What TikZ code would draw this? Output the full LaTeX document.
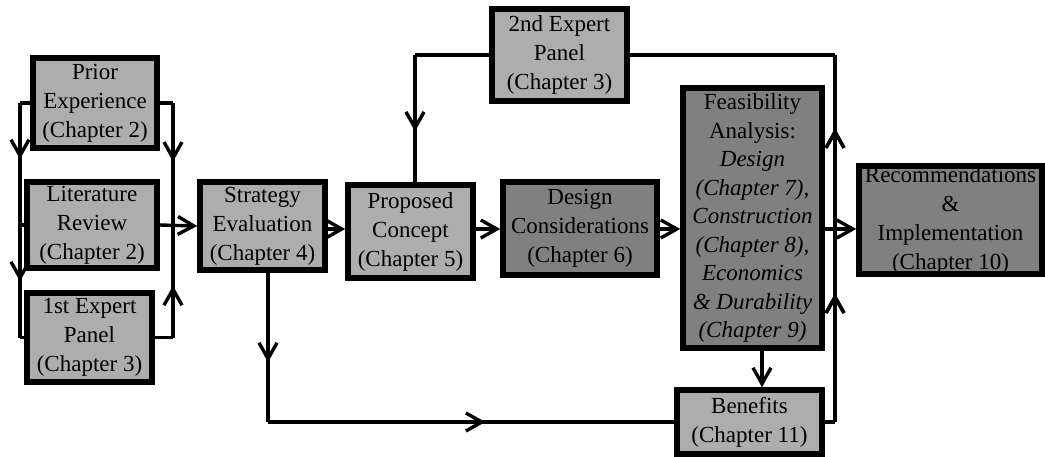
\documentclass[tikz,border=0pt]{standalone}
\usepackage{fontspec}
\setmainfont{Liberation Serif}
\usetikzlibrary{arrows.meta,decorations.markings,calc}
\tikzset{
  box/.style={draw=black, line width=5.5pt, inner sep=0pt, align=center,
    font=\fontsize{23}{29}\selectfont},
  lightbox/.style={box, fill=black!32},
  darkbox/.style={box, fill=black!50},
  conn/.style={draw=black, line width=3.4pt},
  vtip/.tip={Straight Barb[length=16pt,width=18pt,line width=3.4pt]},
  endarr/.style={conn, -vtip},
  tipat/.style={postaction={decorate}, decoration={markings,
     mark=at position #1 with {\arrow{vtip}}}}
}
\begin{document}
\begin{tikzpicture}[x=1pt,y=-1pt]
\path[use as bounding box, fill=white] (0,0) rectangle (1045,456);

% boxes
\node[lightbox, minimum width=124pt, minimum height=90pt] (prior) at (95,103) {Prior\\Experience\\(Chapter 2)};
\node[lightbox, minimum width=130pt, minimum height=86pt] (lit) at (92,225) {Literature\\Review\\(Chapter 2)};
\node[lightbox, minimum width=125pt, minimum height=89pt] (exp1) at (89.5,337.5) {1st Expert\\Panel\\(Chapter 3)};
\node[lightbox, minimum width=125pt, minimum height=88pt] (strat) at (262.5,226) {Strategy\\Evaluation\\(Chapter 4)};
\node[lightbox, minimum width=125pt, minimum height=93pt] (prop) at (410.5,231.5) {Proposed\\Concept\\(Chapter 5)};
\node[lightbox, minimum width=135pt, minimum height=92pt] (exp2) at (559.5,55) {2nd Expert\\Panel\\(Chapter 3)};
\node[darkbox, minimum width=154pt, minimum height=93pt] (design) at (580,228.5) {Design\\Considerations\\(Chapter 6)};
\node[darkbox, minimum width=139pt, minimum height=260pt, font=\fontsize{23}{28.5}\selectfont] (feas) at (752.5,218)
  {Feasibility\\Analysis:\\\itshape Design\\\itshape (Chapter 7),\\\itshape Construction\\\itshape (Chapter 8),\\\itshape Economics\\\itshape \& Durability\\\itshape (Chapter 9)};
\node[darkbox, minimum width=183pt, minimum height=96pt] (recom) at (950.5,220) {Recommendations\\\&\\Implementation\\(Chapter 10)};
\node[lightbox, minimum width=145pt, minimum height=64pt] (benef) at (749.5,422) {Benefits\\(Chapter 11)};

% bend coordinates
\coordinate (L1) at (20,103);
\coordinate (L2) at (20,225);
\coordinate (L3) at (20,337.5);
\coordinate (R1) at (173,103);
\coordinate (R2) at (173,225);
\coordinate (R3) at (173,337.5);
\coordinate (cy) at (0,229);
\coordinate (S0) at (268,0);
\coordinate (S1) at (268,422);
\coordinate (B1) at (835,422);
\coordinate (B2) at (835,55);
\coordinate (P1) at (415,55);
\coordinate (F0) at (762,0);

% left feed lines
\draw[conn] (prior.west) -- (L1);
\draw[conn, tipat=0.46] (L1) -- (L2);
\draw[conn] (L2) -- (lit.west);
\draw[conn, tipat=0.5] (L2) -- (L3);
\draw[conn] (L3) -- (exp1.west);

% right collect lines
\draw[conn] (prior.east) -- (R1);
\draw[conn, tipat=0.48] (R1) -- (R2);
\draw[conn] (exp1.east) -- (R3);
\draw[conn, tipat=0.46] (R3) -- (R2);
\draw[endarr] (lit.east) -- (strat.west);

% main chain
\draw[endarr] (strat.east |- cy) -- (prop.west |- cy);
\draw[endarr] (prop.east |- cy) -- (design.west |- cy);
\draw[endarr] (design.east |- cy) -- (feas.west |- cy);
\draw[endarr] (feas.east |- cy) -- (recom.west |- cy);

% feasibility to benefits
\draw[endarr] (feas.south -| F0) -- (benef.north -| F0);

% strategy to benefits
\draw[conn, tipat=0.6] (strat.south -| S0) -- (S1);
\draw[conn, tipat=0.535] (S1) -- (benef.west);

% benefits back up to 2nd expert panel
\draw[conn] (benef.east) -- (B1);
\draw[conn, tipat=0.35, tipat=0.8] (B1) -- (B2);
\draw[conn] (B2) -- (exp2.east);

% 2nd expert panel to proposed concept
\draw[conn] (exp2.west) -- (P1);
\draw[conn, tipat=0.6] (P1) -- (prop.north -| P1);
\end{tikzpicture}
\end{document}
